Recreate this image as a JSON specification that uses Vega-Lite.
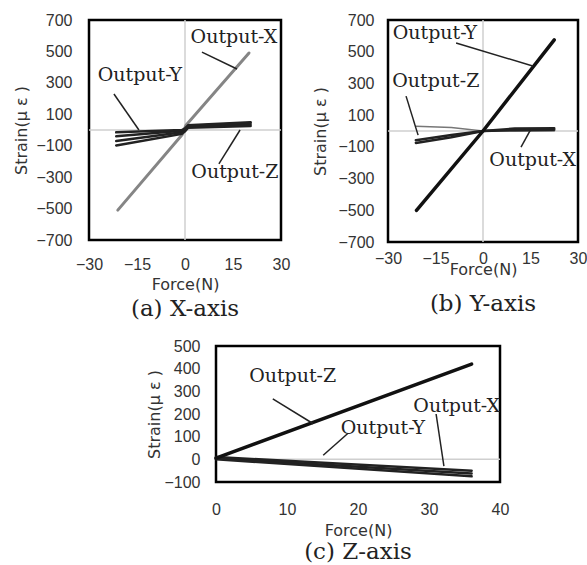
{
  "$schema": "https://vega.github.io/schema/vega-lite/v6.json",
  "background": "white",
  "padding": {"left": 12, "top": 10, "right": 0, "bottom": 0},
  "config": {
    "view": {"stroke": "black", "strokeWidth": 2.5},
    "axis": {
      "domain": false, "ticks": false, "grid": false,
      "labelFont": "Liberation Sans", "labelFontSize": 16, "labelColor": "#333",
      "labelFlush": false, "labelOverlap": false,
      "titleFont": "DejaVu Sans", "titleFontSize": 16, "titleFontWeight": "normal", "titleColor": "#333"
    },
    "title": {"font": "DejaVu Serif", "fontSize": 23, "fontWeight": "normal", "color": "#222", "orient": "bottom", "anchor": "middle", "offset": 6}
  },
  "datasets": {
    "curves": [
      {"panel": "a", "output": "X", "run": 1, "f": -21, "s": -510},
      {"panel": "a", "output": "X", "run": 1, "f": -0.9, "s": -30},
      {"panel": "a", "output": "X", "run": 1, "f": 0.3, "s": 30},
      {"panel": "a", "output": "X", "run": 1, "f": 20, "s": 490},
      {"panel": "a", "output": "Y", "run": 1, "f": -21.5, "s": -98},
      {"panel": "a", "output": "Y", "run": 1, "f": -1, "s": -25},
      {"panel": "a", "output": "Y", "run": 1, "f": 0, "s": -8},
      {"panel": "a", "output": "Y", "run": 1, "f": 1, "s": 15},
      {"panel": "a", "output": "Y", "run": 1, "f": 20.5, "s": 25},
      {"panel": "a", "output": "Y", "run": 2, "f": -21.5, "s": -70},
      {"panel": "a", "output": "Y", "run": 2, "f": -1, "s": -15},
      {"panel": "a", "output": "Y", "run": 2, "f": 0, "s": 0},
      {"panel": "a", "output": "Y", "run": 2, "f": 1, "s": 20},
      {"panel": "a", "output": "Y", "run": 2, "f": 20.5, "s": 35},
      {"panel": "a", "output": "Z", "run": 1, "f": -21.5, "s": -40},
      {"panel": "a", "output": "Z", "run": 1, "f": -1, "s": -5},
      {"panel": "a", "output": "Z", "run": 1, "f": 0, "s": 5},
      {"panel": "a", "output": "Z", "run": 1, "f": 1, "s": 25},
      {"panel": "a", "output": "Z", "run": 1, "f": 20.5, "s": 45},
      {"panel": "a", "output": "Z", "run": 2, "f": -21.5, "s": -15},
      {"panel": "a", "output": "Z", "run": 2, "f": -1, "s": 0},
      {"panel": "a", "output": "Z", "run": 2, "f": 0, "s": 10},
      {"panel": "a", "output": "Z", "run": 2, "f": 1, "s": 30},
      {"panel": "a", "output": "Z", "run": 2, "f": 20.5, "s": 50},
      {"panel": "b", "output": "Y", "run": 1, "f": -21, "s": -500},
      {"panel": "b", "output": "Y", "run": 1, "f": 0, "s": 0},
      {"panel": "b", "output": "Y", "run": 1, "f": 22.5, "s": 575},
      {"panel": "b", "output": "X", "run": 1, "f": -21.2, "s": -75},
      {"panel": "b", "output": "X", "run": 1, "f": -10, "s": -40},
      {"panel": "b", "output": "X", "run": 1, "f": 0, "s": 0},
      {"panel": "b", "output": "X", "run": 1, "f": 10, "s": 5},
      {"panel": "b", "output": "X", "run": 1, "f": 22.5, "s": 8},
      {"panel": "b", "output": "X", "run": 2, "f": -21.2, "s": -58},
      {"panel": "b", "output": "X", "run": 2, "f": -10, "s": -25},
      {"panel": "b", "output": "X", "run": 2, "f": 0, "s": 0},
      {"panel": "b", "output": "X", "run": 2, "f": 10, "s": 15},
      {"panel": "b", "output": "X", "run": 2, "f": 22.5, "s": 18},
      {"panel": "b", "output": "Z", "run": 1, "f": -21.2, "s": 30},
      {"panel": "b", "output": "Z", "run": 1, "f": -10, "s": 22},
      {"panel": "b", "output": "Z", "run": 1, "f": 0, "s": 0},
      {"panel": "b", "output": "Z", "run": 1, "f": 22.5, "s": 0},
      {"panel": "c", "output": "Z", "run": 1, "f": 0, "s": 5},
      {"panel": "c", "output": "Z", "run": 1, "f": 36, "s": 420},
      {"panel": "c", "output": "Y", "run": 1, "f": 0, "s": 10},
      {"panel": "c", "output": "Y", "run": 1, "f": 36, "s": -50},
      {"panel": "c", "output": "Y", "run": 2, "f": 0, "s": 5},
      {"panel": "c", "output": "Y", "run": 2, "f": 36, "s": -62},
      {"panel": "c", "output": "X", "run": 1, "f": 0, "s": 0},
      {"panel": "c", "output": "X", "run": 1, "f": 36, "s": -75}
    ],
    "segments": [
      {"panel": "a", "kind": "cross", "f": 0, "s": -700, "f2": 0, "s2": 700},
      {"panel": "a", "kind": "cross", "f": -30, "s": 0, "f2": 30, "s2": 0},
      {"panel": "a", "kind": "leader", "f": 5.3, "s": 496, "f2": 16.25, "s2": 388},
      {"panel": "a", "kind": "leader", "f": -22.2, "s": 229, "f2": -14.4, "s2": 0},
      {"panel": "a", "kind": "leader", "f": 10.6, "s": -216, "f2": 17.2, "s2": 0},
      {"panel": "b", "kind": "cross", "f": 0, "s": -700, "f2": 0, "s2": 700},
      {"panel": "b", "kind": "cross", "f": -30, "s": 0, "f2": 30, "s2": 0},
      {"panel": "b", "kind": "leader", "f": -8.5, "s": 555, "f2": 15.7, "s2": 410},
      {"panel": "b", "kind": "leader", "f": -24.3, "s": 220, "f2": -20.5, "s2": -26},
      {"panel": "b", "kind": "leader", "f": 12, "s": -101, "f2": 15, "s2": 7},
      {"panel": "c", "kind": "cross", "f": 0, "s": 0, "f2": 40, "s2": 0},
      {"panel": "c", "kind": "leader", "f": 8, "s": 267, "f2": 13.7, "s2": 157},
      {"panel": "c", "kind": "leader", "f": 18.6, "s": 115, "f2": 15.1, "s2": 18},
      {"panel": "c", "kind": "leader", "f": 31, "s": 200, "f2": 32.1, "s2": -30}
    ],
    "notes": [
      {"panel": "a", "label": "Output-X", "f": 15.3, "s": 592},
      {"panel": "a", "label": "Output-Y", "f": -14.1, "s": 350},
      {"panel": "a", "label": "Output-Z", "f": 15.6, "s": -267},
      {"panel": "b", "label": "Output-Y", "f": -15.2, "s": 618},
      {"panel": "b", "label": "Output-Z", "f": -14.9, "s": 315},
      {"panel": "b", "label": "Output-X", "f": 15.7, "s": -183},
      {"panel": "c", "label": "Output-Z", "f": 10.8, "s": 368},
      {"panel": "c", "label": "Output-Y", "f": 23.5, "s": 138},
      {"panel": "c", "label": "Output-X", "f": 33.9, "s": 235}
    ]
  },
  "spacing": 13,
  "vconcat": [
    {
      "spacing": 19,
      "hconcat": [
        {
          "width": 192, "height": 220,
          "title": {"text": "(a) X-axis"},
          "encoding": {
            "x": {"field": "f", "type": "quantitative", "scale": {"domain": [-30, 30], "nice": false, "zero": false},
                  "axis": {"values": [-30, -15, 0, 15, 30], "title": "Force(N)", "labelPadding": 16, "titlePadding": 4}},
            "y": {"field": "s", "type": "quantitative", "scale": {"domain": [-700, 700], "nice": false, "zero": false},
                  "axis": {"values": [-700, -500, -300, -100, 100, 300, 500, 700], "title": "Strain(μ ε )", "labelPadding": 17, "titlePadding": 6}}
          },
          "layer": [
            {"data": {"name": "segments"}, "transform": [{"filter": "datum.panel == 'a' && datum.kind == 'cross'"}],
             "mark": {"type": "rule", "color": "#cfcfcf", "strokeWidth": 1.5},
             "encoding": {"x2": {"field": "f2"}, "y2": {"field": "s2"}}},
            {"data": {"name": "curves"}, "transform": [{"filter": "datum.panel == 'a' && datum.output == 'X'"}],
             "mark": {"type": "line", "color": "#858585", "strokeWidth": 3, "strokeCap": "round"},
             "encoding": {"detail": {"field": "run"}}},
            {"data": {"name": "curves"}, "transform": [{"filter": "datum.panel == 'a' && datum.output != 'X'"}],
             "mark": {"type": "line", "color": "#222", "strokeWidth": 2.5, "strokeCap": "round"},
             "encoding": {"detail": [{"field": "output"}, {"field": "run"}]}},
            {"data": {"name": "segments"}, "transform": [{"filter": "datum.panel == 'a' && datum.kind == 'leader'"}],
             "mark": {"type": "rule", "color": "#222", "strokeWidth": 1.5},
             "encoding": {"x2": {"field": "f2"}, "y2": {"field": "s2"}}},
            {"data": {"name": "notes"}, "transform": [{"filter": "datum.panel == 'a'"}],
             "mark": {"type": "text", "font": "DejaVu Serif", "fontSize": 19, "color": "#222", "clip": true},
             "encoding": {"text": {"field": "label"}}}
          ]
        },
        {
          "width": 190, "height": 222,
          "title": {"text": "(b) Y-axis", "offset": 16},
          "encoding": {
            "x": {"field": "f", "type": "quantitative", "scale": {"domain": [-30, 30], "nice": false, "zero": false},
                  "axis": {"values": [-30, -15, 0, 15, 30], "title": "Force(N)", "labelPadding": 8, "titlePadding": -5}},
            "y": {"field": "s", "type": "quantitative", "scale": {"domain": [-700, 700], "nice": false, "zero": false},
                  "axis": {"values": [-700, -500, -300, -100, 100, 300, 500, 700], "title": "Strain(μ ε )", "labelPadding": 14, "titlePadding": 9}}
          },
          "layer": [
            {"data": {"name": "segments"}, "transform": [{"filter": "datum.panel == 'b' && datum.kind == 'cross'"}],
             "mark": {"type": "rule", "color": "#cfcfcf", "strokeWidth": 1.5},
             "encoding": {"x2": {"field": "f2"}, "y2": {"field": "s2"}}},
            {"data": {"name": "curves"}, "transform": [{"filter": "datum.panel == 'b' && datum.output == 'Z'"}],
             "mark": {"type": "line", "color": "#777", "strokeWidth": 1.5, "strokeCap": "round"},
             "encoding": {"detail": {"field": "run"}}},
            {"data": {"name": "curves"}, "transform": [{"filter": "datum.panel == 'b' && datum.output == 'X'"}],
             "mark": {"type": "line", "color": "#222", "strokeWidth": 2.5, "strokeCap": "round"},
             "encoding": {"detail": {"field": "run"}}},
            {"data": {"name": "curves"}, "transform": [{"filter": "datum.panel == 'b' && datum.output == 'Y'"}],
             "mark": {"type": "line", "color": "#111", "strokeWidth": 3.5, "strokeCap": "round"},
             "encoding": {"detail": {"field": "run"}}},
            {"data": {"name": "segments"}, "transform": [{"filter": "datum.panel == 'b' && datum.kind == 'leader'"}],
             "mark": {"type": "rule", "color": "#222", "strokeWidth": 1.5},
             "encoding": {"x2": {"field": "f2"}, "y2": {"field": "s2"}}},
            {"data": {"name": "notes"}, "transform": [{"filter": "datum.panel == 'b'"}],
             "mark": {"type": "text", "font": "DejaVu Serif", "fontSize": 19, "color": "#222", "clip": true},
             "encoding": {"text": {"field": "label"}}}
          ]
        }
      ]
    },
    {
      "spacing": 0,
      "hconcat": [
        {
          "width": 56, "height": 10,
          "view": {"stroke": null},
          "data": {"values": [{"v": 0}]},
          "mark": {"type": "point", "opacity": 0},
          "encoding": {}
        },
        {
          "width": 284, "height": 136,
          "title": {"text": "(c) Z-axis", "offset": 3},
          "encoding": {
            "x": {"field": "f", "type": "quantitative", "scale": {"domain": [0, 40], "nice": false, "zero": false},
                  "axis": {"values": [0, 10, 20, 30, 40], "title": "Force(N)", "labelPadding": 19, "titlePadding": 5}},
            "y": {"field": "s", "type": "quantitative", "scale": {"domain": [-100, 500], "nice": false, "zero": false},
                  "axis": {"values": [-100, 0, 100, 200, 300, 400, 500], "title": "Strain(μ ε )", "labelPadding": 16, "titlePadding": 1}}
          },
          "layer": [
            {"data": {"name": "segments"}, "transform": [{"filter": "datum.panel == 'c' && datum.kind == 'cross'"}],
             "mark": {"type": "rule", "color": "#cfcfcf", "strokeWidth": 1.5},
             "encoding": {"x2": {"field": "f2"}, "y2": {"field": "s2"}}},
            {"data": {"name": "curves"}, "transform": [{"filter": "datum.panel == 'c' && datum.output != 'Z'"}],
             "mark": {"type": "line", "color": "#222", "strokeWidth": 2.5, "strokeCap": "round"},
             "encoding": {"detail": [{"field": "output"}, {"field": "run"}]}},
            {"data": {"name": "curves"}, "transform": [{"filter": "datum.panel == 'c' && datum.output == 'Z'"}],
             "mark": {"type": "line", "color": "#111", "strokeWidth": 3.5, "strokeCap": "round"},
             "encoding": {"detail": {"field": "run"}}},
            {"data": {"name": "segments"}, "transform": [{"filter": "datum.panel == 'c' && datum.kind == 'leader'"}],
             "mark": {"type": "rule", "color": "#222", "strokeWidth": 1.5},
             "encoding": {"x2": {"field": "f2"}, "y2": {"field": "s2"}}},
            {"data": {"name": "notes"}, "transform": [{"filter": "datum.panel == 'c'"}],
             "mark": {"type": "text", "font": "DejaVu Serif", "fontSize": 19, "color": "#222", "clip": true},
             "encoding": {"text": {"field": "label"}}}
          ]
        }
      ]
    }
  ]
}
